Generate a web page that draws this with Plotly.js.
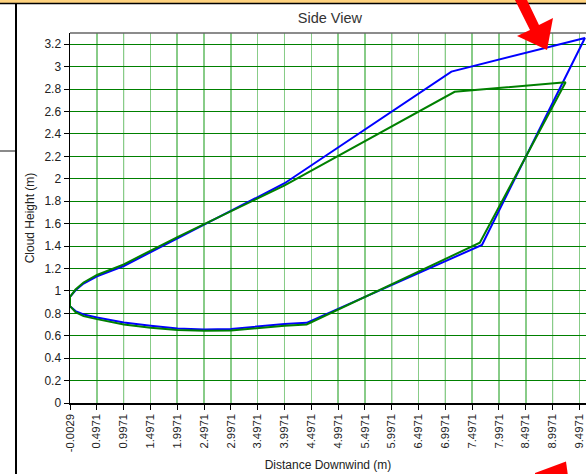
<!DOCTYPE html>
<html>
<head>
<meta charset="utf-8">
<script src="https://cdn.plot.ly/plotly-3.0.1.min.js"></script>
<style>html,body{margin:0;padding:0;background:#fff;}#chart{width:586px;height:474px;}</style>
</head>
<body>
<div id="chart"></div>
<script>
// ---- data ----
const blueX = [-0.0029, 0.1, 0.25, 0.5, 1.0, 1.5, 2.0, 2.5, 3.0, 3.5, 4.0, 7.11, 9.60, 7.68, 4.41, 4.0, 3.5, 3.0, 2.5, 2.0, 1.5, 1.0, 0.5, 0.25, 0.1, -0.0029, -0.0029];
const blueY = [0.947, 1.005, 1.065, 1.13, 1.222, 1.345, 1.465, 1.585, 1.71, 1.835, 1.96, 2.956, 3.256, 1.41, 0.715, 0.705, 0.68, 0.66, 0.656, 0.665, 0.69, 0.718, 0.763, 0.79, 0.82, 0.864, 0.947];
const greenX = [-0.0029, 0.1, 0.25, 0.5, 1.0, 1.5, 2.0, 2.5, 3.0, 3.5, 4.0, 7.17, 9.24, 7.64, 4.41, 4.0, 3.5, 3.0, 2.5, 2.0, 1.5, 1.0, 0.5, 0.25, 0.1, -0.0029, -0.0029];
const greenY = [0.947, 1.012, 1.075, 1.142, 1.237, 1.36, 1.48, 1.595, 1.71, 1.825, 1.94, 2.776, 2.86, 1.43, 0.70, 0.69, 0.665, 0.646, 0.644, 0.65, 0.672, 0.70, 0.748, 0.775, 0.81, 0.864, 0.947];
const xTickVals = [-0.0029, 0.4971, 0.9971, 1.4971, 1.9971, 2.4971, 2.9971, 3.4971, 3.9971, 4.4971, 4.9971, 5.4971, 5.9971, 6.4971, 6.9971, 7.4971, 7.9971, 8.4971, 8.9971, 9.4971];
const xTickText = ["-0.0029", "0.4971", "0.9971", "1.4971", "1.9971", "2.4971", "2.9971", "3.4971", "3.9971", "4.4971", "4.9971", "5.4971", "5.9971", "6.4971", "6.9971", "7.4971", "7.9971", "8.4971", "8.9971", "9.4971"];
const darkGridX = [0.9971, 1.9971, 2.9971, 3.9971, 4.9971, 5.9971, 6.9971, 7.9971, 8.9971];

// ---- layout geometry ----
const W = 586, H = 474, ML = 70, MR = 0, MT = 33, MB = 71;
const PW = W - ML - MR, PH = H - MT - MB;
const px = (x) => (x - ML) / PW;   // pixel -> paper
const py = (y) => (H - MB - y) / PH;
function poly(pts) {
  return 'M' + pts.map(p => px(p[0]).toFixed(5) + ',' + py(p[1]).toFixed(5)).join('L') + 'Z';
}

const FONT = 'Liberation Sans, Arial, sans-serif';
const shapes = [];
// dark vertical grid lines (every other tick)
darkGridX.forEach(v => shapes.push({type:'line', xref:'x', yref:'paper', x0:v, x1:v, y0:0, y1:1,
  line:{color:'#008000', width:1}, layer:'below'}));
// top frame line (gray)
shapes.push({type:'line', xref:'paper', yref:'paper', x0:0, x1:1, y0:1, y1:1, line:{color:'#666666', width:1.5}, layer:'above'});
// window decorations
shapes.push({type:'rect', xref:'paper', yref:'paper', x0:px(0), x1:px(W), y0:py(0), y1:py(3), fillcolor:'#FFD37F', line:{width:0}, layer:'above'});
shapes.push({type:'line', xref:'paper', yref:'paper', x0:px(0), x1:px(W), y0:py(3.5), y1:py(3.5), line:{color:'#000000', width:1.5}, layer:'above'});
shapes.push({type:'line', xref:'paper', yref:'paper', x0:px(16), x1:px(16), y0:py(3.5), y1:py(H), line:{color:'#000000', width:2}, layer:'above'});
shapes.push({type:'line', xref:'paper', yref:'paper', x0:px(0), x1:px(15), y0:py(151), y1:py(151), line:{color:'#8a8a8a', width:2}, layer:'above'});
// red arrows
shapes.push({type:'path', xref:'paper', yref:'paper', path: poly([[515,0],[527,0],[539,25],[553,18],[547,50],[517,36],[530,30]]), fillcolor:'#FF0000', line:{width:0}, layer:'above'});
shapes.push({type:'path', xref:'paper', yref:'paper', path: poly([[535,473],[566,461.5],[568,476],[535,476]]), fillcolor:'#FF0000', line:{width:0}, layer:'above'});

const traces = [
  {x: blueX, y: blueY, mode:'lines', line:{color:'#0000FF', width:2}, hoverinfo:'skip', showlegend:false},
  {x: greenX, y: greenY, mode:'lines', line:{color:'#008000', width:2}, hoverinfo:'skip', showlegend:false}
];

const layout = {
  width: W, height: H,
  margin: {l: ML, r: MR, t: MT, b: MB, pad: 0},
  paper_bgcolor: '#ffffff', plot_bgcolor: '#ffffff',
  showlegend: false,
  font: {family: FONT, color: '#222222', size: 12},
  title: {text: 'Side View', x: 0.563, xanchor: 'center', y: 1 - 18/H, yanchor: 'middle',
          font: {family: FONT, size: 14.5, color: '#333333'}},
  xaxis: {
    range: [-0.0029, 9.62], tickmode: 'array', tickvals: xTickVals, ticktext: xTickText,
    tickangle: -90, tickfont: {family: FONT, size: 11.3, color: '#222222'},
    ticks: 'outside', ticklen: 5, tickcolor: '#000000', tickwidth: 1,
    showgrid: true, gridcolor: '#88CC88', gridwidth: 1.5, zeroline: false,
    showline: true, linecolor: '#000000', linewidth: 1.5,
    title: {text: 'Distance Downwind (m)', standoff: 9, font: {family: FONT, size: 12, color: '#222222'}},
    automargin: false, fixedrange: true
  },
  yaxis: {
    range: [0, 3.3], dtick: 0.2, tick0: 0,
    tickfont: {family: FONT, size: 12, color: '#222222'},
    ticks: 'outside', ticklen: 5, tickcolor: '#000000', tickwidth: 1,
    showgrid: true, gridcolor: '#008000', gridwidth: 1, zeroline: false,
    showline: true, linecolor: '#000000', linewidth: 1.5,
    title: {text: 'Cloud Height (m)', standoff: 7, font: {family: FONT, size: 12, color: '#222222'}},
    automargin: false, fixedrange: true
  },
  shapes: shapes
};

Plotly.newPlot('chart', traces, layout, {staticPlot: true, displayModeBar: false});
</script>
</body>
</html>
